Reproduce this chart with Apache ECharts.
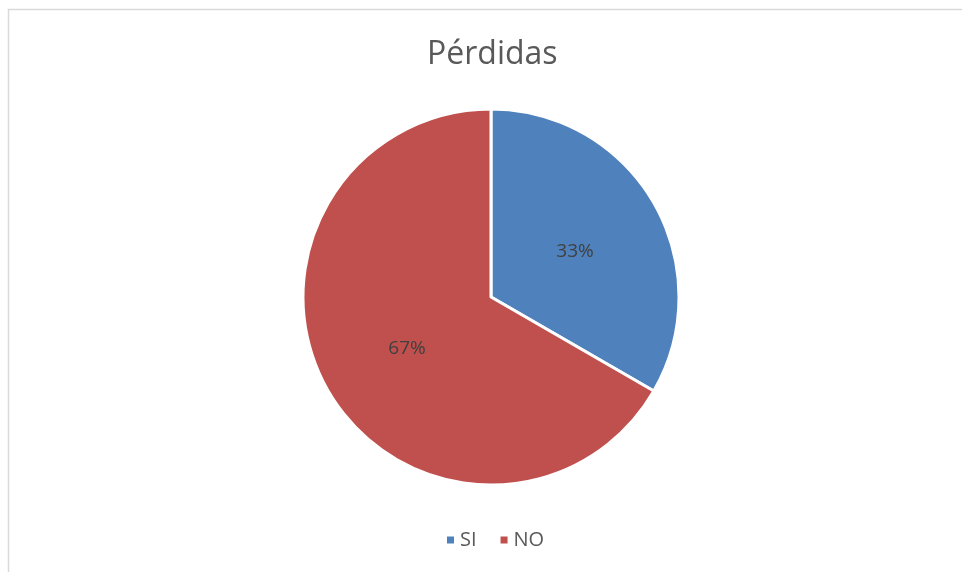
<!DOCTYPE html>
<html>
<head>
<meta charset="utf-8">
<script src="https://cdn.jsdelivr.net/npm/echarts@6/dist/echarts.min.js"></script>
<style>
  html, body { margin: 0; padding: 0; background: #fff; }
  #chart { width: 962px; height: 572px; }
</style>
</head>
<body>
<div id="chart"></div>
<script>
const categories = ['SI', 'NO'];
const values = [1, 2];
const colors = ['#4f81bd', '#c0504d'];

const chart = echarts.init(document.getElementById('chart'));

chart.setOption({
  animation: false,
  title: {
    text: 'Pérdidas',
    left: 422,
    top: 34,
    textStyle: {
      fontFamily: 'Open Sans',
      fontSize: 32,
      fontWeight: 'normal',
      color: '#595959'
    }
  },
  graphic: [{
    type: 'rect',
    shape: { x: 8.5, y: 9.5, width: 1000, height: 1000 },
    style: { fill: 'none', stroke: '#d9d9d9', lineWidth: 1.5 },
    z: -10
  }],
  legend: {
    bottom: 17,
    left: 440,
    itemWidth: 9,
    itemHeight: 9,
    itemGap: 22,
    icon: 'rect',
    data: categories,
    textStyle: { fontFamily: 'Open Sans', fontSize: 20, color: '#595959' }
  },
  series: [{
    type: 'pie',
    center: [491, 297],
    radius: 188,
    startAngle: 90,
    clockwise: true,
    data: categories.map((c, i) => ({
      name: c,
      value: values[i],
      itemStyle: { color: colors[i] }
    })),
    itemStyle: { borderColor: '#fff', borderWidth: 3 },
    label: {
      position: 'inside',
      formatter: p => Math.round(p.percent) + '%',
      fontFamily: 'Open Sans',
      fontSize: 19,
      color: '#404040',
      offset: [0, 3]
    },
    labelLine: { show: false },
    emphasis: { disabled: true }
  }]
});
</script>
</body>
</html>
